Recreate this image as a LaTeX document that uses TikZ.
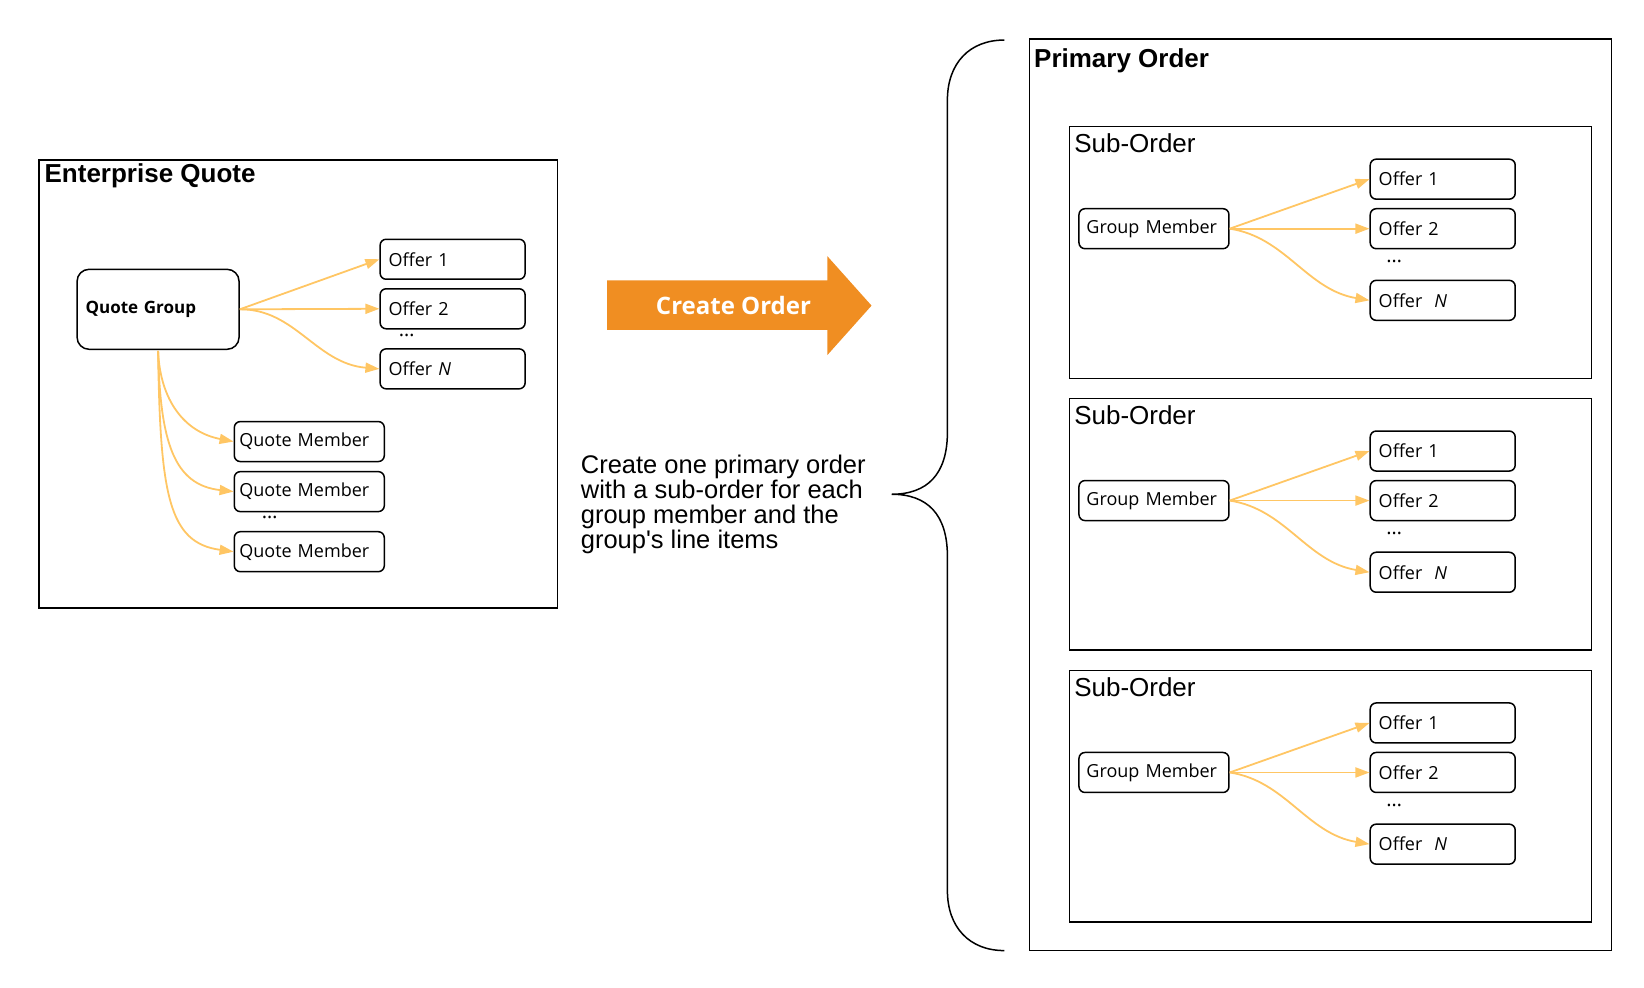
\documentclass[tikz,border=0pt]{standalone}
\usepackage{fontspec}
\setmainfont{Liberation Sans}
\newfontfamily\boxfont{Open Sans}
\usetikzlibrary{arrows.meta}
\definecolor{flowgold}{RGB}{255,198,100}
\definecolor{orderorange}{RGB}{240,142,34}
\tikzset{
  item/.style={draw, line width=1.5pt, rounded corners=6pt, minimum width=145pt, minimum height=40pt, font=\boxfont\fontsize{18}{20}\selectfont, text width=128pt, align=left, inner sep=0pt},
  flow/.style={draw=flowgold, line width=1.8pt, -{Triangle[length=14pt,width=10pt]}},
  frame/.style={draw, line width=1.5pt},
  dots/.style={font=\boxfont\fontsize{20}{20}\selectfont}
}
\begin{document}
\begin{tikzpicture}[x=1.054pt, y=-1.054pt]
\useasboundingbox (0,0) rectangle (1560,937);
% Enterprise quote
\draw[frame] (37,152) rectangle (529,577);
\node[anchor=west, font=\bfseries\fontsize{26}{28}\selectfont] (eqtitle) at (39,167) {Enterprise Quote};
\node[item, minimum width=162pt, minimum height=80pt, text width=145pt, rounded corners=12pt, font=\boxfont\bfseries\fontsize{17}{20}\selectfont] (qg) at (150,293.5) {Quote Group};
\node[item] (qo1) at (429.5,246) {Offer 1};
\node[item] (qo2) at (429.5,293) {Offer 2};
\node[dots] (qd) at (386,318) {\dots};
\node[item] (qon) at (429.5,350) {Offer \textit{N}};
\draw[flow] (qg.east) -- (qo1.west);
\draw[flow] (qg.east) -- (qo2.west);
\draw[flow] (qg.east) .. controls (280,293) and (300,345) .. (qon.west);
\node[item, minimum width=150pt, text width=140pt] (qm1) at (293.5,419) {Quote Member};
\node[item, minimum width=150pt, text width=140pt] (qm2) at (293.5,466.5) {Quote Member};
\node[dots] (qmd) at (256,491) {\dots};
\node[item, minimum width=150pt, text width=140pt] (qm3) at (293.5,523.5) {Quote Member};
\coordinate (qgs) at (150,333);
\draw[flow] (qgs) .. controls (152,380) and (175,410) .. (qm1.west);
\draw[flow] (qgs) .. controls (152,420) and (165,460) .. (qm2.west);
\draw[flow] (qgs) .. controls (152,470) and (160,515) .. (qm3.west);
% Create order arrow
\fill[orderorange] (576,266) -- (785,266) -- (785,243) -- (827,290) -- (785,337) -- (785,313) -- (576,313) -- cycle;
\node[text=white, font=\boxfont\bfseries\fontsize{24}{26}\selectfont] (co) at (696,290) {Create Order};
\node[anchor=north west, align=left, inner sep=0pt, font=\fontsize{25.5}{25}\selectfont] (note) at (551,432) {Create one primary order\\with a sub-order for each\\group member and the\\group\textquotesingle s line items};
% Brace
\draw[line width=1.5pt] (953,38) .. controls (920,38) and (899,60) .. (899,95) -- (899,410) .. controls (899,450) and (880,469) .. (846,469)
  .. controls (880,469) and (899,488) .. (899,528) -- (899,845) .. controls (899,880) and (920,902) .. (953,902);
% Primary order
\draw[frame] (977,37) rectangle (1529,902);
\node[anchor=west, font=\bfseries\fontsize{26}{28}\selectfont] (potitle) at (978,58) {Primary Order};
\foreach \i/\dy in {1/0, 2/258, 3/516} {
  \draw[frame] (1015,120+\dy) rectangle (1510,359+\dy);
  \node[anchor=west, font=\fontsize{26}{28}\selectfont] (sot\i) at (1016,136+\dy) {Sub-Order};
  \node[item, minimum width=150pt, text width=135pt] (gm\i) at (1095,217+\dy) {Group Member};
  \node[item] (o1\i) at (1369,170+\dy) {Offer 1};
  \node[item] (o2\i) at (1369,217+\dy) {Offer 2};
  \node[dots] (d\i) at (1323,248+\dy) {\dots};
  \node[item] (on\i) at (1369,285+\dy) {Offer \ \textit{N}};
  \draw[flow] (gm\i.east) -- (o1\i.west);
  \draw[flow] (gm\i.east) -- (o2\i.west);
  \draw[flow] (gm\i.east) .. controls (1220,225+\dy) and (1240,275+\dy) .. (on\i.west);
}
\end{tikzpicture}
\end{document}
